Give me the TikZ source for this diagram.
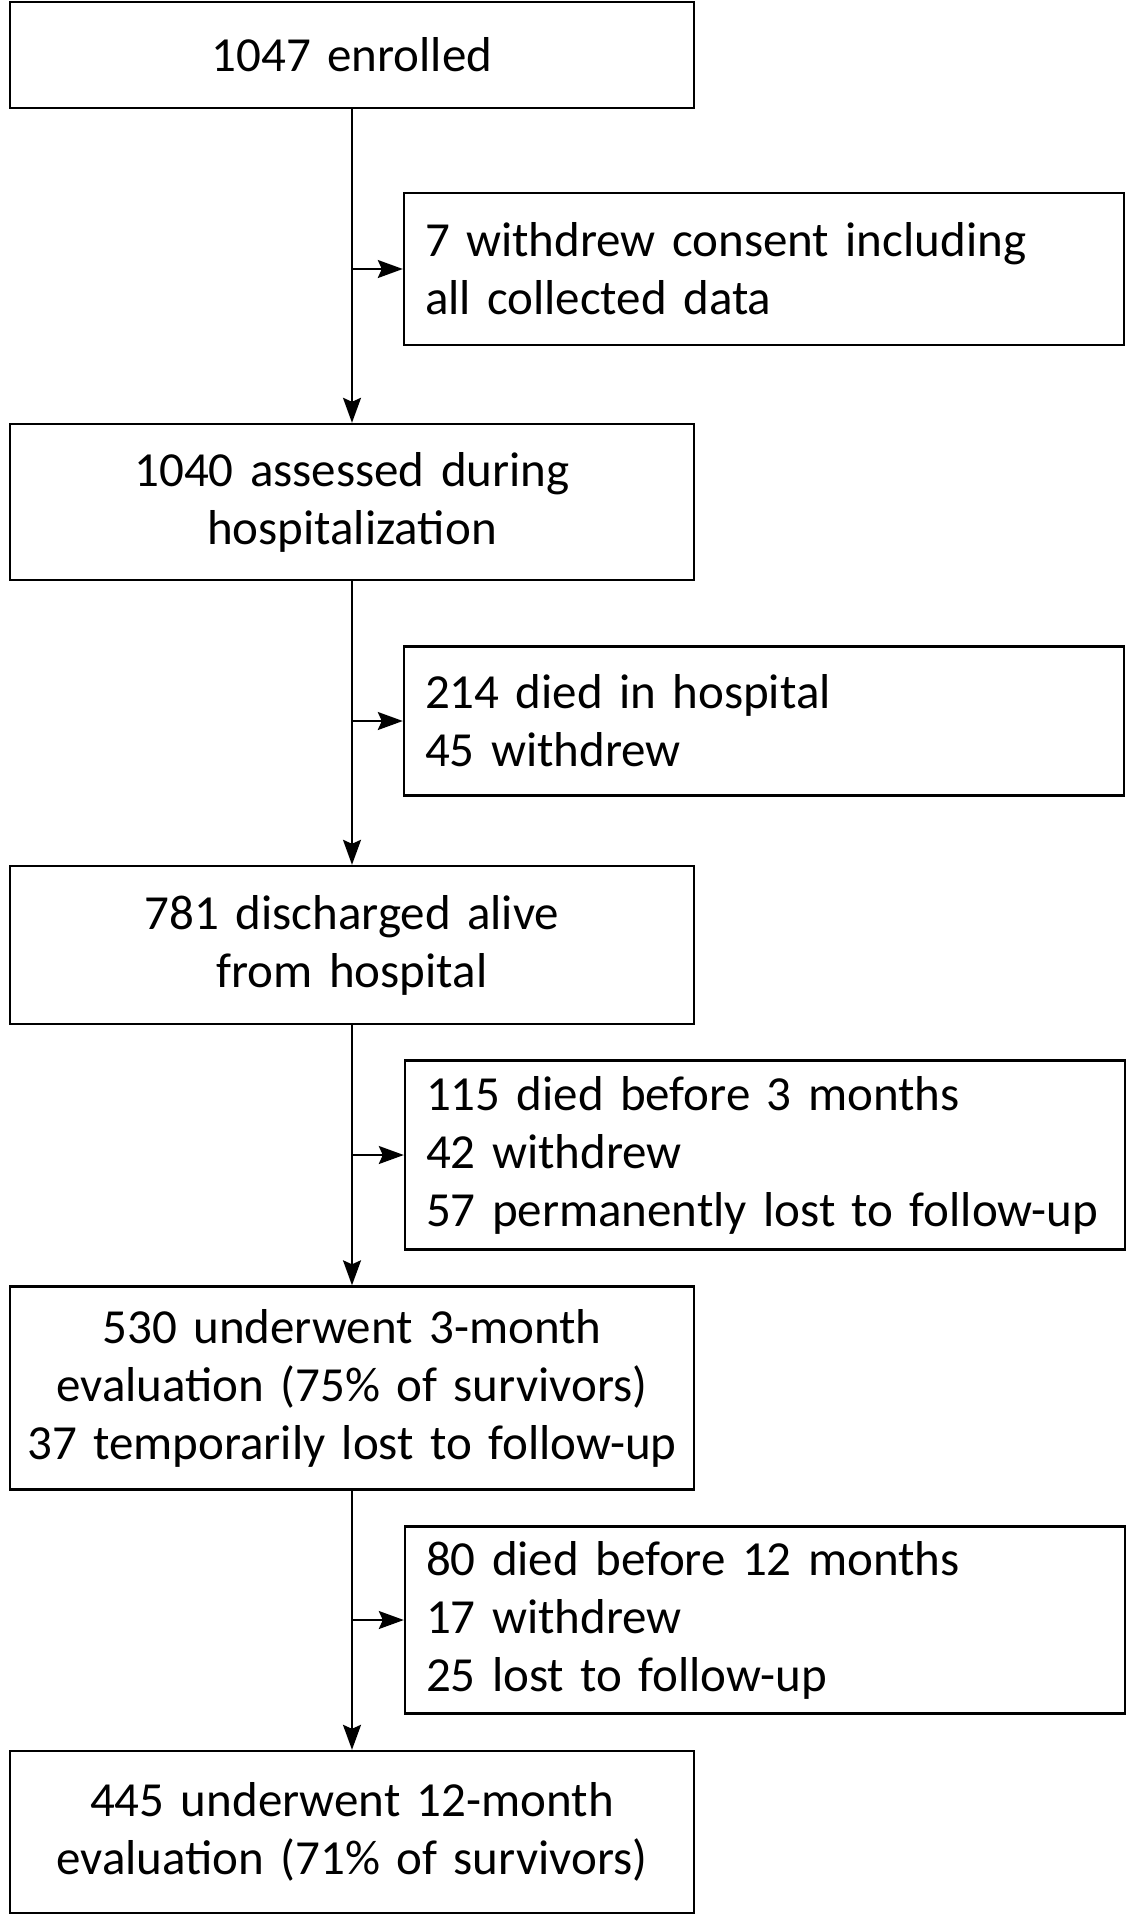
\documentclass[tikz,border=0pt]{standalone}
\usepackage{fontspec}
\setmainfont{Carlito}[WordSpace=0.7]
\usetikzlibrary{arrows.meta}

\begin{document}
\begin{tikzpicture}[x=1pt,y=-1pt]

\def\fs{\fontsize{49}{58}\selectfont}
\tikzstyle{stage} = [
	draw, line width=2.4pt, rectangle, font=\fs,
	text width=676pt, inner xsep=4pt, inner ysep=0pt, align=center ];
\tikzstyle{drop} = [
	draw, line width=2.4pt, rectangle, font=\fs,
	text width=690pt, inner xsep=15pt, inner ysep=0pt, align=left ];
\tikzstyle{flow} = [line width=2pt, -{Stealth[length=25pt,width=18pt,inset=4pt]}];
\useasboundingbox (0,0) rectangle (1134,1920);

\node[stage,minimum height=106pt] (enrolled) at (352,55) {1047 enrolled};
\node[drop,minimum height=152pt] (consent) at (764,269) {\hspace*{6pt}7 withdrew consent including\\\hspace*{6pt}all collected data};
\node[stage,minimum height=156pt] (assessed) at (352,502) {1040 assessed during\\hospitalization};
\node[drop,minimum height=149pt] (inhosp) at (764,721) {\hspace*{6pt}214 died in hospital\\\hspace*{6pt}45 withdrew};
\node[stage,minimum height=158pt] (discharged) at (352,945) {781 discharged alive\\from hospital};
\node[drop,minimum height=189pt] (lost3) at (765,1155) {\hspace*{6pt}115 died before 3 months\\\hspace*{6pt}42 withdrew\\\hspace*{6pt}57 permanently lost to follow-up};
\node[stage,minimum height=203pt] (eval3) at (352,1388) {530 underwent 3-month\\evaluation (75\% of survivors)\\37 temporarily lost to follow-up};
\node[drop,minimum height=187pt] (lost12) at (765,1620) {\hspace*{6pt}80 died before 12 months\\\hspace*{6pt}17 withdrew\\\hspace*{6pt}25 lost to follow-up};
\node[stage,minimum height=162pt] (eval12) at (352,1832) {445 underwent 12-month\\evaluation (71\% of survivors)};

% trunk
\draw[flow] (enrolled.south) -- (assessed.north);
\draw[flow] (assessed.south) -- (discharged.north);
\draw[flow] (discharged.south) -- (eval3.north);
\draw[flow] (eval3.south) -- (eval12.north);

% side exits
\draw[flow] (enrolled.south |- consent.west) -- (consent.west);
\draw[flow] (assessed.south |- inhosp.west) -- (inhosp.west);
\draw[flow] (discharged.south |- lost3.west) -- (lost3.west);
\draw[flow] (eval3.south |- lost12.west) -- (lost12.west);

\end{tikzpicture}
\end{document}
